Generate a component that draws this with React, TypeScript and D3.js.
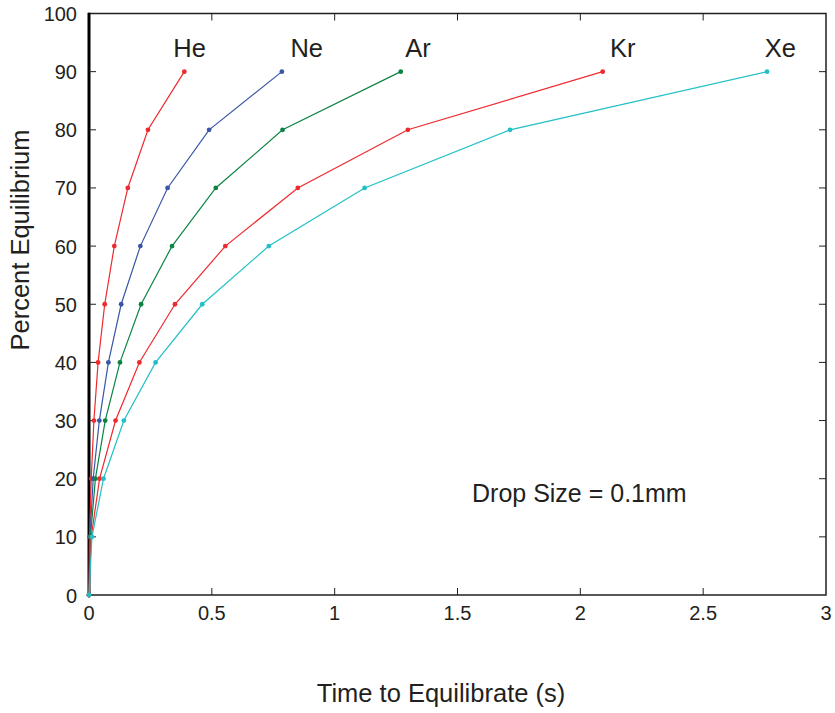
import React from "react";
import * as d3 from "d3";

// Percent of equilibrium reached (y) for each gas
const percents = [0, 10, 20, 30, 40, 50, 60, 70, 80, 90];

// Time to equilibrate (s) at each percent level
const heTimes = [0, 0.002, 0.009, 0.02, 0.037, 0.064, 0.103, 0.158, 0.24, 0.388];
const neTimes = [0, 0.004, 0.017, 0.042, 0.079, 0.131, 0.209, 0.32, 0.489, 0.785];
const arTimes = [0, 0.006, 0.026, 0.066, 0.126, 0.212, 0.338, 0.516, 0.788, 1.269];
const krTimes = [0, 0.009, 0.043, 0.108, 0.205, 0.35, 0.555, 0.85, 1.298, 2.091];
const xeTimes = [0, 0.012, 0.059, 0.142, 0.271, 0.461, 0.732, 1.122, 1.714, 2.76];

const gasNames = ["He", "Ne", "Ar", "Kr", "Xe"];
const gasTimes = [heTimes, neTimes, arTimes, krTimes, xeTimes];
const gasColors = ["#ee2a2f", "#3a56a6", "#0b8443", "#ee2a2f", "#22c0c6"];
// Left edge of each gas name, in seconds
const labelX = [0.343, 0.82, 1.287, 2.121, 2.751];

const xTicks = [0, 0.5, 1, 1.5, 2, 2.5, 3];
const xTickLabels = ["0", "0.5", "1", "1.5", "2", "2.5", "3"];
const yTicks = [0, 10, 20, 30, 40, 50, 60, 70, 80, 90, 100];

const W = 835;
const H = 713;
const margin = { left: 89, right: 9, top: 13.5, bottom: 118 };
const font = "'Liberation Sans', Arial, Helvetica, sans-serif";
const ink = "#231f20";

export default function App() {
  const x = d3.scaleLinear().domain([0, 3]).range([margin.left, W - margin.right]);
  const y = d3.scaleLinear().domain([0, 100]).range([H - margin.bottom, margin.top]);
  const line = d3
    .line<[number, number]>()
    .x((d) => x(d[0]))
    .y((d) => y(d[1]));

  const x0 = x(0);
  const x1 = x(3);
  const y0 = y(0);
  const y1 = y(100);
  const tickLen = 7;

  return (
    <svg
      width={W}
      height={H}
      style={{ position: "absolute", left: 0, top: 0, background: "#fff" }}
      fontFamily={font}
    >
      {/* frame */}
      <rect x={x0} y={y1} width={x1 - x0} height={y0 - y1} fill="none" stroke={ink} strokeWidth={1.5} />
      <line x1={x0} x2={x0} y1={y1 - 0.75} y2={y0 + 0.75} stroke="#000" strokeWidth={3} />

      {/* x ticks (bottom and top, inward) */}
      {xTicks.map((t, i) => (
        <g key={"xt" + i}>
          {i > 0 && i < xTicks.length - 1 && (
            <>
              <line x1={x(t)} x2={x(t)} y1={y0} y2={y0 - tickLen} stroke={ink} strokeWidth={1} />
              <line x1={x(t)} x2={x(t)} y1={y1} y2={y1 + tickLen} stroke={ink} strokeWidth={1} />
            </>
          )}
          <text x={x(t)} y={y0 + 25} textAnchor="middle" fontSize={20} fill={ink}>
            {xTickLabels[i]}
          </text>
        </g>
      ))}

      {/* y ticks (left and right, inward) */}
      {yTicks.map((t, i) => (
        <g key={"yt" + i}>
          {i > 0 && i < yTicks.length - 1 && (
            <>
              <line x1={x0} x2={x0 + tickLen} y1={y(t)} y2={y(t)} stroke={ink} strokeWidth={1} />
              <line x1={x1} x2={x1 - tickLen} y1={y(t)} y2={y(t)} stroke={ink} strokeWidth={1} />
            </>
          )}
          <text x={x0 - 12} y={y(t) + 7.5} textAnchor="end" fontSize={20} fill={ink}>
            {t}
          </text>
        </g>
      ))}

      {/* series */}
      {gasTimes.map((times, gi) => {
        const pts: [number, number][] = times.map((tv, k) => [tv, percents[k]]);
        return (
          <g key={"s" + gi}>
            <path d={line(pts) ?? ""} fill="none" stroke={gasColors[gi]} strokeWidth={1.2} />
            {pts.map((p, k) => (
              <circle key={k} cx={x(p[0])} cy={y(p[1])} r={2.4} fill={gasColors[gi]} />
            ))}
          </g>
        );
      })}

      {/* gas names */}
      {gasNames.map((n, gi) => (
        <text key={"n" + gi} x={x(labelX[gi])} y={57} fontSize={25.5} fill={ink}>
          {n}
        </text>
      ))}

      <text x={472} y={502} fontSize={25} fill={ink}>
        Drop Size = 0.1mm
      </text>

      {/* axis titles */}
      <text x={441} y={702} textAnchor="middle" fontSize={25.5} fill={ink}>
        Time to Equilibrate (s)
      </text>
      <text
        transform={`translate(29, 240) rotate(-90)`}
        textAnchor="middle"
        fontSize={25.5}
        fill={ink}
      >
        Percent Equilibrium
      </text>
    </svg>
  );
}
